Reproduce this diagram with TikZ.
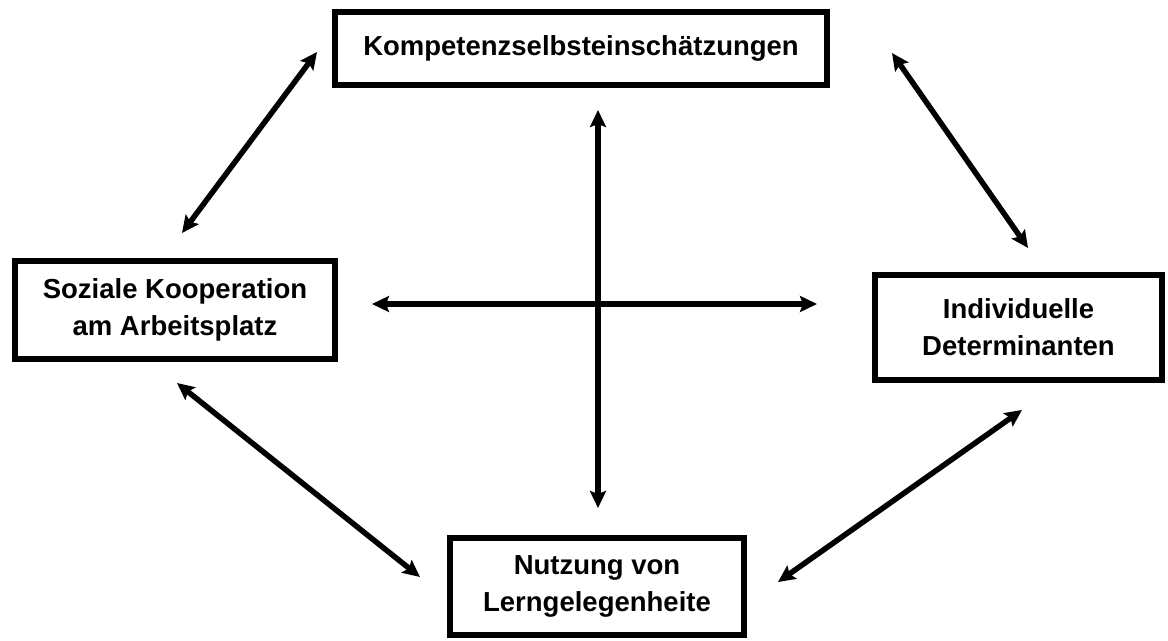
\documentclass[tikz,border=0pt]{standalone}
\usepackage{fontspec}
\setmainfont{Liberation Sans}
\usetikzlibrary{arrows.meta}
\begin{document}
\begin{tikzpicture}[x=1bp,y=-1bp,
  box/.style={draw=black, line width=6bp, fill=white, align=center,
    font=\bfseries\fontsize{27.5bp}{37bp}\selectfont, inner sep=0pt},
  link/.style={line width=5.5bp,
    {Stealth[length=17bp,width=16bp,inset=3bp]}-{Stealth[length=17bp,width=16bp,inset=3bp]}}]
  \useasboundingbox (0,0) rectangle (1168,641);

  % the four constructs
  \node[box, minimum width=492bp, minimum height=73bp] (kse) at (581,48.5) {Kompetenzselbsteinschätzungen};
  \node[box, minimum width=320bp, minimum height=98bp] (soz) at (175,310) {Soziale Kooperation\\am Arbeitsplatz};
  \node[box, minimum width=287bp, minimum height=105bp] (ind) at (1018.5,327.5) {Individuelle\\Determinanten};
  \node[box, minimum width=294bp, minimum height=97bp] (nut) at (597,586.5) {Nutzung von\\Lerngelegenheite};

  % arrow end points
  \coordinate (a1s) at (182,233);  \coordinate (a1e) at (317,52);
  \coordinate (a2s) at (892,53);   \coordinate (a2e) at (1028,248);
  \coordinate (a3s) at (177,383);  \coordinate (a3e) at (420,577);
  \coordinate (a4s) at (1022,410); \coordinate (a4e) at (778,582);
  \coordinate (vt) at (598,110);   \coordinate (vb) at (598,508);
  \coordinate (hl) at (372,304);   \coordinate (hr) at (817,304);

  % mutual relations
  \draw[link] (a1s) -- (a1e);
  \draw[link] (a2s) -- (a2e);
  \draw[link] (a3s) -- (a3e);
  \draw[link] (a4s) -- (a4e);
  \draw[link] (vt) -- (vb);
  \draw[link] (hl) -- (hr);
\end{tikzpicture}
\end{document}
